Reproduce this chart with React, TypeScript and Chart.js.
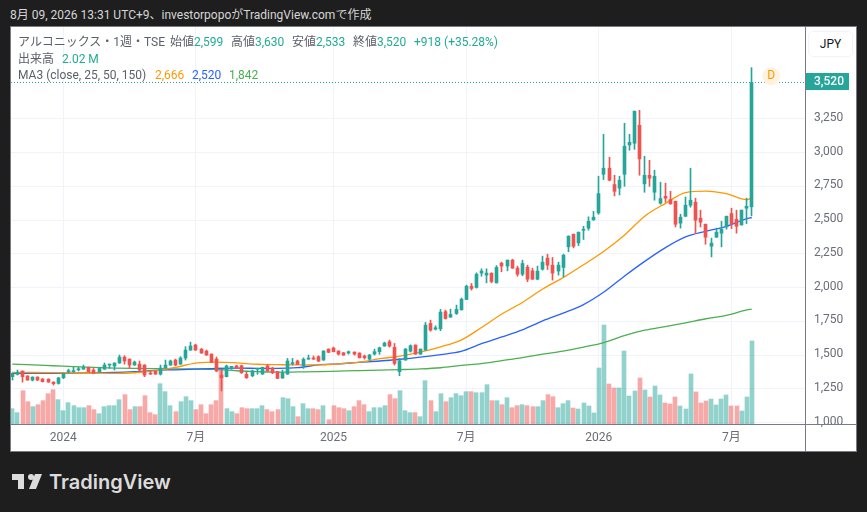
import { useEffect, useRef } from "react"
import { Chart, registerables } from "chart.js"

Chart.register(...registerables)

// Weekly OHLC, oldest first
const opens = [
    1341, 1358, 1383, 1346, 1316, 1338, 1323, 1323, 1301, 1291,
    1333, 1378, 1378, 1392, 1397, 1410, 1390, 1378, 1397, 1427,
    1420, 1442, 1486, 1471, 1427, 1434, 1427, 1368, 1383, 1360,
    1405, 1427, 1464, 1434, 1479, 1538, 1575, 1545, 1531, 1508,
    1471, 1353, 1341, 1410, 1420, 1422, 1358, 1348, 1395, 1360,
    1420, 1402, 1378, 1331, 1360, 1437, 1457, 1422, 1471, 1479,
    1489, 1464, 1545, 1553, 1531, 1518, 1516, 1523, 1516, 1494,
    1471, 1508, 1526, 1568, 1600, 1558, 1378, 1464, 1530, 1575,
    1508, 1538, 1735, 1693, 1696, 1822, 1782, 1809, 1836, 1913,
    2011, 2002, 2108, 2093, 2108, 2036, 2182, 2160, 2204, 2145,
    2100, 2152, 2125, 2063, 2137, 2219, 2167, 2123, 2150, 2303,
    2396, 2332, 2425, 2441, 2502, 2554, 2840, 2885, 2764, 2737,
    2840, 3057, 3070, 3203, 2769, 2833, 2707, 2626, 2677, 2653,
    2640, 2478, 2529, 2611, 2633, 2515, 2470, 2307, 2374, 2404,
    2450, 2549, 2507, 2465, 2589, 2599,
]
const highs = [
    1370, 1390, 1383, 1348, 1340, 1340, 1328, 1325, 1303, 1336,
    1368, 1397, 1410, 1410, 1427, 1412, 1402, 1410, 1442, 1434,
    1444, 1501, 1496, 1473, 1457, 1457, 1430, 1383, 1385, 1427,
    1464, 1464, 1471, 1489, 1563, 1597, 1582, 1550, 1538, 1510,
    1486, 1390, 1427, 1417, 1425, 1427, 1373, 1390, 1404, 1412,
    1432, 1410, 1380, 1390, 1476, 1476, 1464, 1481, 1501, 1494,
    1496, 1533, 1547, 1560, 1533, 1520, 1531, 1525, 1518, 1501,
    1506, 1545, 1560, 1597, 1612, 1587, 1476, 1550, 1577, 1577,
    1547, 1743, 1760, 1718, 1839, 1834, 1841, 1871, 1923, 2019,
    2031, 2110, 2140, 2140, 2110, 2164, 2189, 2206, 2211, 2160,
    2204, 2167, 2145, 2160, 2234, 2248, 2224, 2189, 2248, 2384,
    2398, 2413, 2455, 2525, 2566, 2826, 3136, 2966, 2833, 2826,
    3218, 3136, 3309, 3314, 2973, 2944, 2870, 2781, 2774, 2714,
    2642, 2544, 2672, 2885, 2663, 2574, 2472, 2367, 2441, 2492,
    2531, 2589, 2574, 2576, 2663, 3630,
]
const lows = [
    1316, 1353, 1301, 1314, 1309, 1312, 1301, 1299, 1279, 1286,
    1326, 1368, 1373, 1383, 1395, 1376, 1366, 1373, 1395, 1402,
    1390, 1440, 1434, 1402, 1425, 1383, 1341, 1358, 1358, 1353,
    1402, 1425, 1422, 1432, 1464, 1536, 1536, 1513, 1499, 1445,
    1378, 1235, 1339, 1395, 1400, 1365, 1328, 1341, 1358, 1358,
    1381, 1363, 1326, 1328, 1358, 1427, 1430, 1402, 1469, 1469,
    1452, 1462, 1519, 1524, 1501, 1499, 1508, 1501, 1479, 1471,
    1464, 1501, 1506, 1566, 1560, 1427, 1348, 1462, 1523, 1506,
    1506, 1536, 1678, 1686, 1681, 1767, 1780, 1802, 1834, 1911,
    1982, 1997, 2085, 2036, 2036, 2034, 2118, 2125, 2143, 2085,
    2088, 2044, 2061, 2058, 2130, 2135, 2056, 2093, 2081, 2266,
    2295, 2312, 2357, 2426, 2500, 2544, 2801, 2791, 2680, 2687,
    2751, 3018, 3025, 2833, 2707, 2751, 2648, 2618, 2633, 2618,
    2450, 2441, 2527, 2596, 2401, 2450, 2322, 2228, 2372, 2302,
    2433, 2438, 2404, 2463, 2475, 2533,
]
const closes = [
    1365, 1373, 1341, 1316, 1338, 1316, 1304, 1301, 1289, 1331,
    1365, 1385, 1385, 1397, 1410, 1378, 1368, 1402, 1427, 1432,
    1442, 1486, 1457, 1427, 1449, 1390, 1353, 1360, 1360, 1405,
    1427, 1457, 1427, 1479, 1538, 1568, 1538, 1516, 1501, 1447,
    1383, 1333, 1420, 1415, 1402, 1370, 1333, 1383, 1402, 1410,
    1383, 1370, 1328, 1370, 1457, 1442, 1432, 1469, 1476, 1471,
    1457, 1531, 1521, 1526, 1508, 1501, 1526, 1508, 1481, 1481,
    1501, 1526, 1555, 1590, 1568, 1439, 1459, 1545, 1570, 1508,
    1545, 1723, 1686, 1703, 1819, 1772, 1802, 1839, 1915, 2011,
    1994, 2100, 2123, 2108, 2046, 2150, 2160, 2204, 2145, 2100,
    2179, 2063, 2063, 2123, 2189, 2167, 2108, 2167, 2241, 2382,
    2307, 2411, 2433, 2492, 2522, 2697, 2885, 2796, 2714, 2796,
    3048, 3077, 3307, 2954, 2833, 2811, 2825, 2660, 2663, 2621,
    2470, 2522, 2611, 2648, 2500, 2485, 2374, 2330, 2411, 2433,
    2529, 2475, 2455, 2574, 2603, 3520,
]
// Volume in millions of shares
const volumes = [
    0.373, 0.276, 0.811, 0.543, 0.422, 0.47, 0.568, 0.738, 0.835, 0.592,
    0.324, 0.519, 0.446, 0.397, 0.397, 0.446, 0.349, 0.251, 0.422, 0.446,
    0.446, 0.592, 0.714, 0.349, 0.422, 0.422, 0.689, 0.276, 0.227, 0.981,
    0.787, 0.446, 0.3, 0.543, 0.665, 0.568, 0.349, 0.47, 0.251, 0.47,
    0.568, 1.362, 0.373, 0.3, 0.251, 0.397, 0.373, 0.373, 0.373, 0.446,
    0.349, 0.3, 0.349, 0.641, 0.616, 0.422, 0.178, 0.495, 0.373, 0.373,
    0.349, 0.446, 0.105, 0.446, 0.397, 0.373, 0.324, 0.422, 0.568, 0.47,
    0.3, 0.397, 0.397, 0.446, 0.714, 0.616, 0.811, 0.324, 0.276, 0.276,
    0.178, 1.054, 0.568, 0.3, 0.738, 0.543, 0.641, 0.738, 0.689, 0.787,
    0.787, 0.762, 0.762, 0.957, 0.568, 0.568, 0.47, 0.641, 0.397, 0.446,
    0.47, 0.446, 0.422, 0.422, 0.568, 0.714, 0.665, 0.397, 0.495, 0.568,
    0.389, 0.365, 0.511, 0.438, 0.268, 1.362, 2.409, 0.973, 0.876, 0.876,
    1.776, 0.681, 0.803, 1.119, 0.827, 0.657, 0.925, 0.706, 0.511, 0.487,
    0.657, 0.438, 0.365, 1.217, 0.779, 0.511, 0.56, 0.608, 0.462, 0.608,
    0.706, 0.438, 0.438, 0.316, 0.657, 2.02,
]

// Moving averages, read at these week numbers
const maWeeks = [
    0, 4, 8, 12, 16, 20, 24, 28, 32, 36, 40, 44, 48, 52, 56, 60, 64, 68, 72,
    76, 80, 84, 88, 92, 96, 100, 104, 108, 112, 116, 120, 124, 128, 132, 136, 140, 144, 145,
]
const ma25 = [
    1373, 1372, 1371, 1370, 1368, 1365, 1370, 1385, 1410, 1442, 1449, 1443, 1433, 1430, 1428, 1428, 1435, 1448, 1474,
    1493, 1522, 1562, 1612, 1705, 1805, 1890, 1990, 2075, 2170, 2270, 2389, 2530, 2623, 2705, 2716, 2697, 2652, 2666,
]
const ma50 = [
    1365, 1366, 1366, 1368, 1370, 1372, 1378, 1388, 1392, 1397, 1402, 1404, 1403, 1402, 1408, 1428, 1436, 1447, 1457,
    1470, 1486, 1505, 1528, 1585, 1635, 1688, 1755, 1812, 1875, 1968, 2085, 2195, 2295, 2376, 2418, 2455, 2512, 2520,
]
const ma150 = [
    1434, 1428, 1422, 1416, 1410, 1405, 1402, 1400, 1399, 1398, 1395, 1385, 1378, 1374, 1376, 1378, 1382, 1386, 1389,
    1393, 1398, 1407, 1424, 1438, 1460, 1482, 1508, 1530, 1560, 1594, 1645, 1685, 1712, 1740, 1770, 1795, 1835, 1842,
]

const priceTicks = [1000, 1250, 1500, 1750, 2000, 2250, 2500, 2750, 3000, 3250]
const timeTickWeeks = [10, 36, 63, 89, 115, 141]
const timeTickLabels = ["2024", "7月", "2025", "7月", "2026", "7月"]

const lastClose = 3520
const dividendWeek = 148.8
const dividendLevel = 3566

const UP = "#26a69a"
const DOWN = "#ef5350"
const UP_VOL = "rgba(38, 166, 154, 0.5)"
const DOWN_VOL = "rgba(239, 83, 80, 0.5)"
const GRID = "#f0f3fa"
const AXIS = "#787b86"
const TEXT = "#5d606b"
const AXIS_TEXT = "#6a6d78"
const FONT = 'Roboto, "Noto Sans CJK JP", sans-serif'

const WIDTH = 847
const HEIGHT = 426
const X_MIN = -0.255
const X_MAX = 155.43

const weeks = closes.map((_, i) => i)
const barColors = closes.map((c, i) => (c >= opens[i] ? UP : DOWN))
const volColors = closes.map((c, i) => (c >= opens[i] ? UP_VOL : DOWN_VOL))

function maLine(values: number[], color: string) {
    return {
        type: "line" as const,
        data: values.map((y, i) => ({ x: maWeeks[i], y })),
        borderColor: color,
        borderWidth: 1.3,
        pointRadius: 0,
        cubicInterpolationMode: "monotone" as const,
        yAxisID: "y",
        order: 3,
    }
}

// Chart.js assumes the end ticks sit on the plot edges, so drop the room it keeps for them
function noEdgePadding(scale: any) {
    scale.paddingLeft = 0
    scale.paddingRight = 0
    scale.paddingTop = 0
    scale.paddingBottom = 0
}

// Snap bars to whole pixels, as the original renderer does
const snapBars = {
    id: "snapBars",
    afterDatasetsUpdate(chart: any) {
        chart.data.datasets.forEach((ds: any, i: number) => {
            if (ds.type !== "bar") return
            chart.getDatasetMeta(i).data.forEach((el: any) => {
                el.x = ds.barThickness === 4 ? Math.round(el.x) : Math.floor(el.x) + 0.5
            })
        })
    },
}

// Axis lines, outer frame, last-price tag and the "D" marker
const chartFurniture = {
    id: "chartFurniture",
    afterDraw(chart: any) {
        const { ctx, chartArea, scales } = chart
        ctx.save()
        ctx.strokeStyle = AXIS
        ctx.lineWidth = 1
        ctx.strokeRect(0.5, 0.5, WIDTH - 1, HEIGHT - 1)
        ctx.beginPath()
        ctx.moveTo(chartArea.right + 0.5, 0)
        ctx.lineTo(chartArea.right + 0.5, HEIGHT)
        ctx.moveTo(0, chartArea.bottom + 0.5)
        ctx.lineTo(WIDTH, chartArea.bottom + 0.5)
        ctx.stroke()

        const py = Math.round(scales.y.getPixelForValue(lastClose))
        ctx.fillStyle = UP
        ctx.fillRect(chartArea.right + 1, py - 9, 43, 17)
        ctx.fillStyle = "#ffffff"
        ctx.font = `500 12px ${FONT}`
        ctx.textBaseline = "middle"
        ctx.textAlign = "left"
        ctx.fillText(lastClose.toLocaleString("en-US"), chartArea.right + 9, py)

        const dx = scales.x.getPixelForValue(dividendWeek)
        const dy = scales.y.getPixelForValue(dividendLevel)
        ctx.fillStyle = "#fff3e0"
        ctx.beginPath()
        ctx.arc(dx, dy, 9, 0, Math.PI * 2)
        ctx.fill()
        ctx.fillStyle = "#ff9800"
        ctx.font = `12px ${FONT}`
        ctx.textAlign = "center"
        ctx.fillText("D", dx, dy)
        ctx.restore()
    },
}

function Label({ x, y, color = TEXT, children }: { x: number; y: number; color?: string; children: string }) {
    return (
        <span style={{ position: "absolute", left: x, top: y, color, font: `12px/14px ${FONT}`, whiteSpace: "nowrap" }}>
            {children}
        </span>
    )
}

export default function App() {
    const chartRef = useRef<HTMLCanvasElement>(null)

    useEffect(() => {
        if (!chartRef.current) return
        const chart = new Chart(chartRef.current, {
            type: "bar",
            data: {
                datasets: [
                    {
                        type: "line",
                        data: [{ x: X_MIN, y: lastClose }, { x: X_MAX, y: lastClose }],
                        borderColor: UP,
                        borderWidth: 1,
                        borderDash: [1, 2],
                        pointRadius: 0,
                        yAxisID: "y",
                        order: 0,
                    },
                    {
                        type: "bar",
                        data: weeks.map((x) => ({ x, y: [opens[x], closes[x]] })),
                        backgroundColor: barColors,
                        barThickness: 3,
                        minBarLength: 1,
                        grouped: false,
                        yAxisID: "y",
                        order: 1,
                    },
                    {
                        type: "bar",
                        data: weeks.map((x) => ({ x, y: [lows[x], highs[x]] })),
                        backgroundColor: barColors,
                        barThickness: 1,
                        grouped: false,
                        yAxisID: "y",
                        order: 2,
                    },
                    maLine(ma25, "#ff9800"),
                    maLine(ma50, "#2962ff"),
                    maLine(ma150, "#4caf50"),
                    {
                        type: "bar",
                        data: weeks.map((x) => ({ x, y: volumes[x] })),
                        backgroundColor: volColors,
                        barThickness: 4,
                        grouped: false,
                        yAxisID: "volume",
                        order: 4,
                    },
                ],
            } as any,
            options: {
                responsive: false,
                animation: false,
                parsing: { xAxisKey: "x", yAxisKey: "y" },
                layout: { padding: { left: 1, top: 1, right: 1, bottom: 1 } },
                plugins: { legend: { display: false }, tooltip: { enabled: false } },
                scales: {
                    x: {
                        type: "linear",
                        offset: false,
                        min: X_MIN,
                        max: X_MAX,
                        grid: { color: GRID, drawTicks: false, offset: false },
                        border: { display: false },
                        afterBuildTicks: (scale: any) => {
                            scale.ticks = timeTickWeeks.map((value) => ({ value }))
                        },
                        afterFit: (scale: any) => {
                            scale.height = 27
                            noEdgePadding(scale)
                        },
                        ticks: {
                            autoSkip: false,
                            maxRotation: 0,
                            padding: 7,
                            color: AXIS_TEXT,
                            font: { family: FONT, size: 12 },
                            callback: (value: any) => timeTickLabels[timeTickWeeks.indexOf(value)],
                        },
                    },
                    y: {
                        type: "linear",
                        position: "right",
                        min: 990.4,
                        max: 3931,
                        grid: { color: GRID, drawTicks: false },
                        border: { display: false },
                        afterBuildTicks: (scale: any) => {
                            scale.ticks = priceTicks.map((value) => ({ value }))
                        },
                        afterFit: (scale: any) => {
                            scale.width = 51
                            noEdgePadding(scale)
                        },
                        ticks: {
                            autoSkip: false,
                            padding: 9,
                            labelOffset: -1,
                            color: AXIS_TEXT,
                            font: { family: FONT, size: 12 },
                            callback: (value: any) => Number(value).toLocaleString("en-US"),
                        },
                    },
                    volume: {
                        type: "linear",
                        display: false,
                        min: 0,
                        max: 9.66,
                    },
                },
            },
            plugins: [snapBars, chartFurniture],
        } as any)

        return () => {
            chart.destroy()
        }
    }, [])

    return (
        <div style={{ position: "fixed", left: 0, top: 0, width: 867, height: 512, background: "#1e1e1e", overflow: "hidden" }}>
            <span style={{ position: "absolute", left: 10, top: 8, color: "#d6d6d6", font: `12px/14px ${FONT}`, whiteSpace: "nowrap" }}>
                8月 09, 2026 13:31 UTC+9、investorpopoがTradingView.comで作成
            </span>
            <canvas
                ref={chartRef}
                width={WIDTH}
                height={HEIGHT}
                style={{ position: "absolute", left: 10, top: 26, width: WIDTH, height: HEIGHT, background: "#ffffff" }}
            />
            <Label x={18} y={35}>アルコニックス・1週・TSE</Label>
            <Label x={170} y={35}>始値</Label>
            <Label x={194} y={35} color="#22ab94">2,599</Label>
            <Label x={231} y={35}>高値</Label>
            <Label x={255} y={35} color="#22ab94">3,630</Label>
            <Label x={292} y={35}>安値</Label>
            <Label x={316} y={35} color="#22ab94">2,533</Label>
            <Label x={353} y={35}>終値</Label>
            <Label x={377} y={35} color="#22ab94">3,520</Label>
            <Label x={414} y={35} color="#22ab94">+918 (+35.28%)</Label>
            <Label x={18} y={52}>出来高</Label>
            <Label x={62} y={52} color="#22ab94">2.02 M</Label>
            <Label x={18} y={68}>MA3 (close, 25, 50, 150)</Label>
            <Label x={155} y={68} color="#ff9800">2,666</Label>
            <Label x={192} y={68} color="#2962ff">2,520</Label>
            <Label x={229} y={68} color="#4caf50">1,842</Label>
            <div
                style={{
                    position: "absolute",
                    left: 808,
                    top: 31,
                    width: 43,
                    height: 24,
                    border: "1px solid #f0f3fa",
                    borderRadius: 5,
                    background: "#ffffff",
                    color: "#131722",
                    font: `12px/24px ${FONT}`,
                    textAlign: "center",
                }}
            >
                JPY
            </div>
            <svg style={{ position: "absolute", left: 10, top: 468 }} width="36" height="28" viewBox="0 0 36 28">
                <path fill="#dcdcdc" d="M14 6H2v6h6v9h6V6Zm12 15h-7l6-15h7l-6 15ZM24 9a3 3 0 1 1-6 0 3 3 0 0 1 6 0Z" />
            </svg>
            <span style={{ position: "absolute", left: 49, top: 468, color: "#dcdcdc", font: '600 20px/28px Inter, sans-serif', whiteSpace: "nowrap" }}>
                TradingView
            </span>
        </div>
    )
}
